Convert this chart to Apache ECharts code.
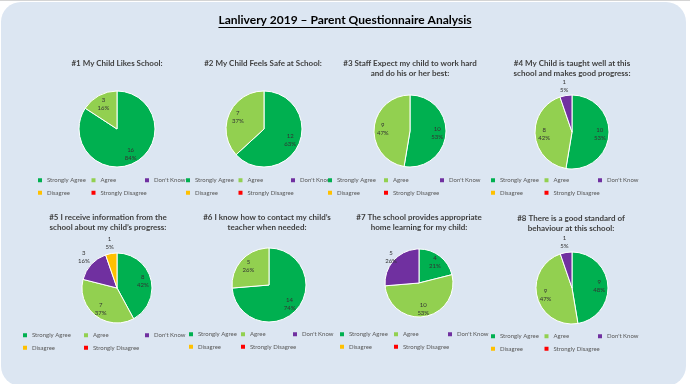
<!DOCTYPE html>
<html><head><meta charset="utf-8">
<script src="https://cdn.jsdelivr.net/npm/echarts@6/dist/echarts.min.js"></script>
<style>
html,body{margin:0;padding:0;background:#fff;}
#top{position:absolute;left:0;top:0;width:690px;height:1px;background:#d4d4d4;}
#bg{position:absolute;left:1px;top:2px;width:685px;height:384px;border-radius:20px;background:#dce6f2;}
#c{position:absolute;left:0;top:0;width:690px;height:384px;}
</style></head><body>
<div id="top"></div><div id="bg"></div><div id="c"></div>
<script>
// ---- data ----
const mainTitle = 'Lanlivery 2019 – Parent Questionnaire Analysis';
const categories = ['Strongly Agree', 'Agree', "Don't Know", 'Disagree', 'Strongly Disagree'];
const questions = [
  '#1 My Child Likes School:',
  '#2 My Child Feels Safe at School:',
  '#3 Staff Expect my child to work hard\nand do his or her best:',
  '#4 My Child is taught well at this\nschool and makes good progress:',
  '#5 I receive information from the\nschool about my child\u2019s progress:',
  '#6 I know how to contact my child\u2019s\nteacher when needed:',
  '#7 The school provides appropriate\nhome learning for my child:',
  '#8 There is a good standard of\nbehaviour at this school:'
];
const q1 = [16, 3, 0, 0, 0];
const q2 = [12, 7, 0, 0, 0];
const q3 = [10, 9, 0, 0, 0];
const q4 = [10, 8, 1, 0, 0];
const q5 = [8, 7, 3, 1, 0];
const q6 = [14, 5, 0, 0, 0];
const q7 = [4, 10, 5, 0, 0];
const q8 = [9, 9, 1, 0, 0];
const answers = [q1, q2, q3, q4, q5, q6, q7, q8];

// ---- styling / layout ----
const colors = ['#00b050', '#92d050', '#7030a0', '#ffc000', '#ff0000'];
const centers = [[117,129],[264,129],[410,131],[572,132],[117,288],[269,285],[419,283],[572,288]];
const radii = [38, 38, 36, 37, 35, 37, 34, 36];
const titleX = [117, 263, 410, 572, 108, 267, 419, 571];
const titleTop = [58, 58, 58, 58, 212, 212, 212, 213];
const legendLeft = [38, 186, 328, 491, 23, 189, 340, 491];
const legendTop = [176, 176, 176, 176, 331, 330, 330, 332];
const legendStep = [53.5, 52.5, 56, 53.5, 61, 52, 54, 53.5];
const outsideLabels = [[], [], [], [2], [2, 3], [], [], [2]];
const edgeLabels = [[], [], [], [], [], [], [2], []];
const FONT = 'Lato, "Open Sans", sans-serif';

const chart = echarts.init(document.getElementById('c'), null, {renderer: 'canvas'});

// measure main title for underline
const mc = document.createElement('canvas').getContext('2d');
mc.font = 'bold 12px Lato';
const tw = mc.measureText(mainTitle).width;

const graphic = [
  {type: 'text', x: 345, y: 14, style: {text: mainTitle, textAlign: 'center', textVerticalAlign: 'top',
    font: 'bold 12px ' + FONT, fill: '#000'}},
  {type: 'line', shape: {x1: 345 - tw / 2, y1: 27.5, x2: 345 + tw / 2, y2: 27.5}, style: {stroke: '#000', lineWidth: 1}}
];
questions.forEach((q, i) => {
  graphic.push({type: 'text', x: titleX[i], y: titleTop[i], style: {text: q, textAlign: 'center',
    textVerticalAlign: 'top', font: 'bold 8px ' + FONT, fill: '#404040', lineHeight: 10.5}});
});

const legends = answers.map((a, i) => ({
  left: legendLeft[i], top: legendTop[i], width: legendStep[i] * 3, orient: 'horizontal', padding: 0,
  data: categories, icon: 'rect', itemWidth: 4, itemHeight: 4, itemGap: 4, selectedMode: false,
  itemStyle: {borderWidth: 0},
  textStyle: {fontSize: 6, color: '#595959', fontFamily: FONT, width: legendStep[i] - 13, lineHeight: 8.5, overflow: 'none'}
}));

const series = answers.map((vals, i) => ({
  type: 'pie', center: centers[i], radius: [0, radii[i]], startAngle: 90, clockwise: true,
  percentPrecision: 0, avoidLabelOverlap: false, silent: true, animation: false,
  label: {position: 'inside', formatter: '{c}\n{d}%', fontSize: 6, lineHeight: 8, color: '#333', fontFamily: FONT},
  labelLine: {show: false},
  labelLayout: function (p) {
    const c = centers[i], r = radii[i];
    const lx = p.labelRect.x + p.labelRect.width / 2, ly = p.labelRect.y + p.labelRect.height / 2;
    const out = outsideLabels[i].indexOf(p.dataIndex) >= 0;
    const edge = edgeLabels[i].indexOf(p.dataIndex) >= 0;
    const k = out ? (r + 3.5) / (r / 2) : (edge ? 1.9 : 1.3);
    return {x: c[0] + (lx - c[0]) * k, y: c[1] + (ly - c[1]) * k, align: 'center', verticalAlign: 'middle'};
  },
  data: vals.map((v, k) => ({
    name: categories[k], value: v,
    itemStyle: {color: colors[k], borderColor: '#fff', borderWidth: v > 0 ? 1 : 0},
    label: {show: v > 0}
  }))
}));

chart.setOption({backgroundColor: 'transparent', animation: false, graphic, legend: legends, series});
</script>
</body></html>
